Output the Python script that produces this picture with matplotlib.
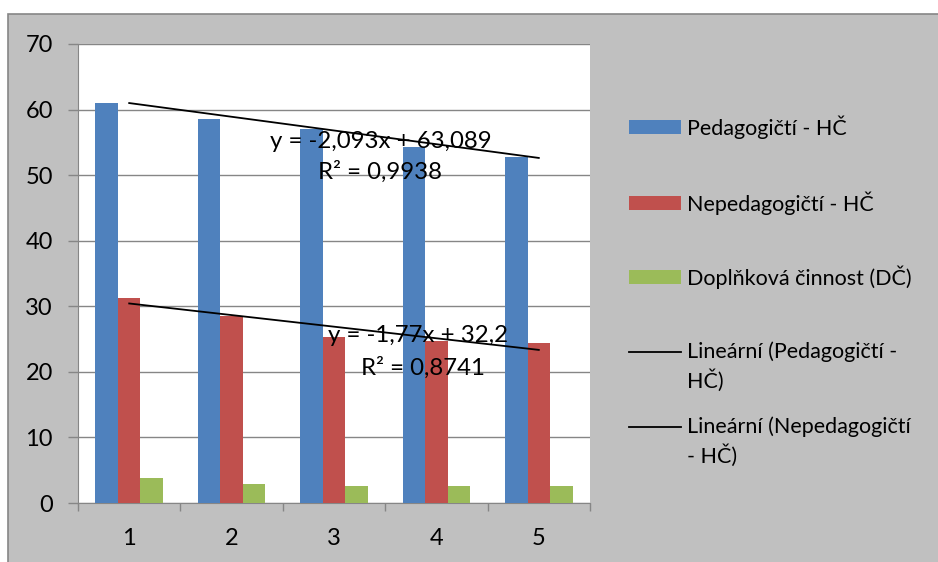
import matplotlib.pyplot as plt
from matplotlib.patches import Rectangle
from matplotlib.lines import Line2D
import numpy as np

plt.rcParams['font.family'] = ['Lato', 'DejaVu Sans']

categories = ['1', '2', '3', '4', '5']
pedagogicti = [61.0, 58.6, 57.0, 54.3, 52.8]
nepedagogicti = [31.3, 28.5, 25.3, 24.7, 24.4]
doplnkova = [3.8, 2.9, 2.6, 2.6, 2.6]
series_names = ['Pedagogičtí - HČ', 'Nepedagogičtí - HČ', 'Doplňková činnost (DČ)']
colors = ['#4f81bd', '#c0504d', '#9bbb59']
trend_ped = (-2.093, 63.089, '0,9938')
trend_neped = (-1.77, 32.2, '0,8741')
trend_labels = ['Lineární (Pedagogičtí -\nHČ)', 'Lineární (Nepedagogičtí\n- HČ)']

W, H = 938, 562
fs = 15.5
fs_eq = 17.3
fig = plt.figure(figsize=(W / 100, H / 100), dpi=100)
fig.patch.set_facecolor('white')

# chart area background with border
bg = Rectangle((8 / W, -0.1), 1.2, (H - 14) / H + 0.1, transform=fig.transFigure,
               facecolor='#c0c0c0', edgecolor='#868686', lw=1.2, zorder=-5)
fig.add_artist(bg)

ax = fig.add_axes([78 / W, (H - 503) / H, (590 - 78) / W, (503 - 44) / H])
ax.set_facecolor('white')
ax.set_zorder(1)

x = np.arange(len(categories))
bw = 0.22
for i, vals in enumerate([pedagogicti, nepedagogicti, doplnkova]):
    ax.bar(x + (i - 1) * bw, vals, bw, color=colors[i], edgecolor='none', zorder=3)

for slope, icpt, r2 in [trend_ped, trend_neped]:
    xs = np.arange(1, 6)
    ax.plot(x, slope * xs + icpt, color='black', lw=1.3, zorder=4)

ax.text(2.46, 55.2, 'y = -2,093x + 63,089', ha='center', va='center', fontsize=fs_eq, zorder=5)
ax.text(2.45, 50.5, 'R² = 0,9938', ha='center', va='center', fontsize=fs_eq, zorder=5)
ax.text(2.82, 25.6, 'y = -1,77x + 32,2', ha='center', va='center', fontsize=fs_eq, zorder=5)
ax.text(2.87, 20.6, 'R² = 0,8741', ha='center', va='center', fontsize=fs_eq, zorder=5)

ax.set_xlim(-0.5, 4.5)
ax.set_ylim(0, 70)
ax.set_yticks(range(0, 71, 10))
ax.yaxis.grid(True, color='#868686', lw=1)
ax.set_axisbelow(True)
ax.tick_params(axis='y', length=7, width=1, color='#868686', labelsize=17, pad=11)
ax.set_xticks(np.arange(-0.5, 5, 1))
ax.set_xticklabels([])
ax.set_xticks(x, minor=True)
ax.set_xticklabels(categories, minor=True)
ax.tick_params(axis='x', which='major', length=6, width=1, color='#868686', direction='out')
ax.tick_params(axis='x', which='minor', length=0, labelsize=17, pad=18)
for s in ['top', 'right']:
    ax.spines[s].set_visible(False)
for s in ['left', 'bottom']:
    ax.spines[s].set_color('#868686')

# legend
ys = [127, 203, 277, 352, 427]
for i in range(3):
    fig.add_artist(Rectangle((629 / W, (H - ys[i] - 7) / H), 52 / W, 14 / H,
                             transform=fig.transFigure, facecolor=colors[i], edgecolor='none'))
    fig.text(687 / W, (H - ys[i]) / H, series_names[i], fontsize=fs, va='center', ha='left')
for j in range(2):
    y = ys[3 + j]
    fig.add_artist(Line2D([629 / W, 681 / W], [(H - y) / H] * 2, transform=fig.transFigure,
                          color='black', lw=1.3))
    fig.text(687 / W, (H - y + 11) / H, trend_labels[j], fontsize=fs, va='top', ha='left',
             linespacing=1.4)

fig.savefig('out.png', dpi=100)
